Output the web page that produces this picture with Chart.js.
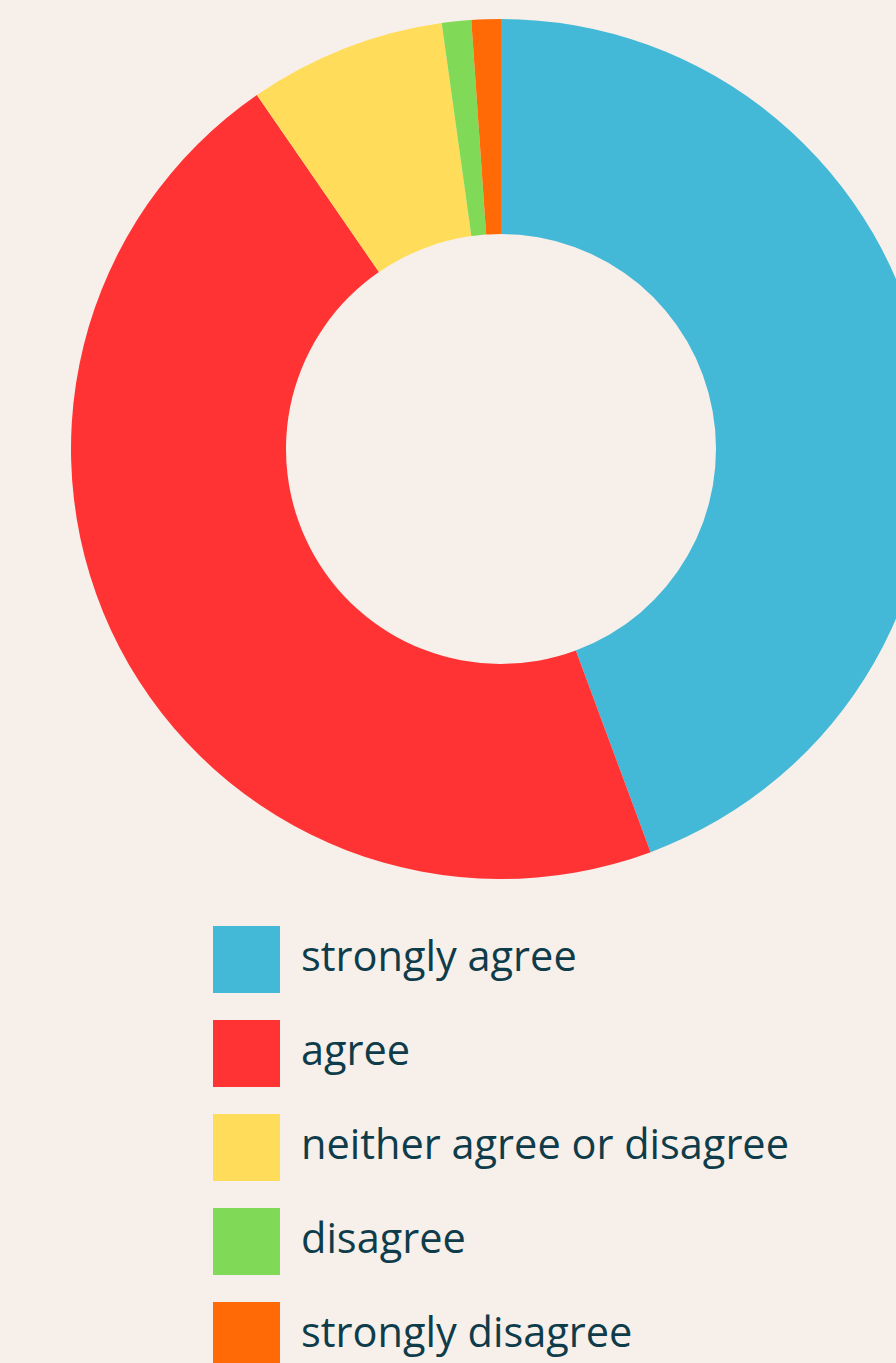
<!DOCTYPE html>
<html>
<head>
<meta charset="utf-8">
<script src="https://cdn.jsdelivr.net/npm/chart.js@4/dist/chart.umd.min.js"></script>
<style>
  html, body {
    margin: 0;
    padding: 0;
    width: 896px;
    height: 1363px;
    overflow: hidden;
    background: #f7efe9;
  }
  #chartBox {
    position: absolute;
    left: 0;
    top: 0;
    width: 1002px;
    height: 879px;
  }
  #legend {
    position: absolute;
    left: 213px;
    top: 926px;
    margin: 0;
    padding: 0;
    list-style: none;
  }
  #legend li {
    display: flex;
    align-items: center;
    height: 67px;
    margin-bottom: 27px;
    font-family: "Open Sans", sans-serif;
    font-size: 41.5px;
    color: #0e3c4a;
    white-space: nowrap;
  }
  #legend .swatch {
    width: 67px;
    height: 67px;
    margin-right: 21px;
    flex: none;
  }
  #legend .label {
    position: relative;
    top: -5px;
  }
</style>
</head>
<body>
<div id="chartBox"><canvas id="surveyChart"></canvas></div>
<ul id="legend"></ul>

<script>
// ============================================
// Survey response doughnut
// ============================================

// Response categories, share of answers (%) and slice colours
const RESPONSES = [
  'strongly agree',
  'agree',
  'neither agree or disagree',
  'disagree',
  'strongly disagree',
];
const SHARES = [44.3, 46.0, 7.4, 1.1, 1.1];
const COLORS = ['#43b8d7', '#ff3334', '#ffdd5b', '#80da57', '#ff6a07'];

let chart = null;

/**
 * Builds the list under the doughnut from the chart's own legend items
 */
function buildLegend(chart) {
  const list = document.getElementById('legend');
  list.innerHTML = '';

  const items = chart.options.plugins.legend.labels.generateLabels(chart);
  items.forEach((item) => {
    const li = document.createElement('li');

    const swatch = document.createElement('span');
    swatch.className = 'swatch';
    swatch.style.background = item.fillStyle;

    const text = document.createElement('span');
    text.className = 'label';
    text.textContent = item.text;

    li.appendChild(swatch);
    li.appendChild(text);
    list.appendChild(li);
  });
}

function initChart() {
  const ctx = document.getElementById('surveyChart').getContext('2d');

  chart = new Chart(ctx, {
    type: 'doughnut',
    data: {
      labels: RESPONSES,
      datasets: [
        {
          data: SHARES,
          backgroundColor: COLORS,
          borderWidth: 0,
          hoverOffset: 0,
        },
      ],
    },
    options: {
      responsive: true,
      maintainAspectRatio: false,
      cutout: '50%',
      animation: false,
      layout: {
        padding: { top: 19 },
      },
      plugins: {
        legend: { display: false },
        tooltip: { enabled: false },
      },
    },
  });

  buildLegend(chart);
}

initChart();
</script>
</body>
</html>
